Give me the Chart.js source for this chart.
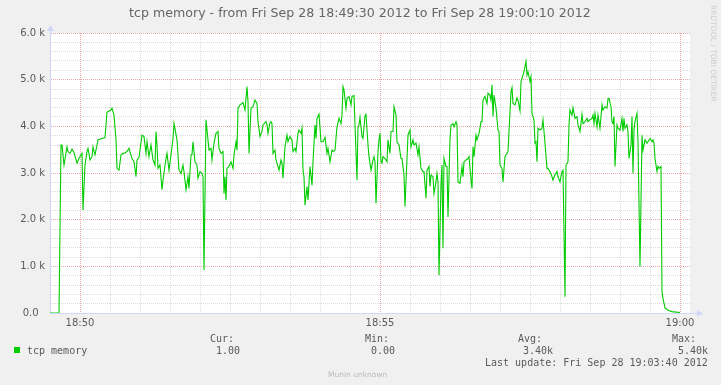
<!DOCTYPE html>
<html>
<head>
<meta charset="utf-8">
<title>tcp memory</title>
<script src="https://cdn.jsdelivr.net/npm/chart.js@4.4.0/dist/chart.umd.min.js"></script>
<style>
  html, body { margin: 0; padding: 0; background: #f0f0f0; }
  #wrap { width: 721px; height: 385px; }
</style>
</head>
<body>
<div id="wrap"><canvas id="tcpChart" width="721" height="385"></canvas></div>
<script>
// seconds after 18:49:30
const times = [
  0, 9, 11, 12, 14, 17, 18, 20, 22, 24, 27, 29, 31, 32, 33, 35, 37, 38, 40, 42, 43, 45, 47, 48, 52, 55,
  57, 59, 61, 62, 64, 66, 67, 69, 71, 73, 74, 77, 79, 82, 84, 86, 87, 89, 92, 94, 96, 97, 99, 101, 103, 105,
  106, 107, 108, 110, 112, 113, 116, 117, 119, 121, 123, 124, 127, 129, 131, 133, 134, 136, 138, 139, 141, 142,
  143, 145, 147, 148, 150, 152, 153, 154, 156, 157, 159, 161, 162, 164, 166, 168, 169, 171, 173, 174, 175, 176,
  177, 179, 181, 183, 184, 186, 187, 188, 190, 192, 193, 195, 197, 198, 199, 201, 203, 205, 207, 208, 210, 212,
  213, 216, 217, 218, 220, 221, 222, 223, 225, 226, 228, 229, 231, 232, 233, 235, 237, 238, 240, 242, 243, 245,
  246, 248, 249, 251, 252, 253, 254, 255, 257, 258, 260, 262, 263, 265, 266, 267, 269, 271, 273, 275, 277, 278,
  280, 282, 283, 285, 287, 289, 291, 292, 293, 294, 296, 297, 299, 301, 302, 304, 305, 307, 308, 309, 310, 312,
  313, 315, 316, 318, 319, 321, 323, 324, 325, 326, 328, 329, 330, 331, 332, 333, 335, 337, 338, 340, 341, 343,
  344, 346, 347, 349, 351, 352, 354, 355, 357, 358, 360, 361, 363, 364, 366, 368, 369, 371, 373, 374, 376, 377,
  379, 380, 381, 383, 384, 386, 387, 388, 389, 391, 392, 393, 394, 396, 397, 398, 400, 401, 403, 404, 406, 407,
  408, 410, 412, 413, 414, 416, 418, 419, 421, 422, 423, 424, 426, 427, 429, 430, 431, 432, 433, 435, 437, 438,
  440, 441, 442, 443, 444, 446, 448, 449, 450, 452, 453, 455, 456, 458, 459, 461, 462, 463, 465, 467, 468, 470,
  471, 473, 474, 476, 477, 478, 480, 481, 482, 484, 485, 486, 487, 488, 490, 492, 493, 495, 497, 498, 500, 502,
  503, 505, 507, 508, 510, 512, 513, 515, 516, 518, 519, 520, 522, 523, 525, 527, 528, 530, 532, 533, 535, 537,
  538, 540, 542, 543, 544, 545, 547, 548, 550, 552, 553, 555, 557, 558, 559, 561, 562, 563, 564, 565, 567, 568,
  570, 572, 573, 574, 575, 577, 578, 579, 581, 582, 583, 584, 585, 587, 588, 590, 592, 593, 595, 597, 598, 600,
  602, 603, 604, 605, 607, 608, 609, 611, 612, 613, 615, 618, 622, 630
];
// thousands
const values = [
  0, 0, 3.60, 3.60, 3.17, 3.56, 3.46, 3.42, 3.51, 3.44, 3.21, 3.31, 3.39, 3.42, 2.21, 3.17, 3.46, 3.53, 3.28, 3.35, 3.56, 3.39, 3.60, 3.71, 3.74, 3.76,
  4.30, 4.33, 4.35, 4.39, 4.24, 3.71, 3.10, 3.06, 3.39, 3.42, 3.42, 3.46, 3.53, 3.31, 3.24, 2.92, 3.28, 3.33, 3.81, 3.78, 3.42, 3.67, 3.35, 3.60, 3.28, 3.17,
  3.89, 3.60, 3.10, 3.17, 2.64, 2.85, 3.31, 3.42, 3.06, 3.39, 3.74, 4.06, 3.71, 3.06, 2.99, 3.17, 3.03, 2.64, 2.92, 2.67, 3.39, 3.39,
  3.67, 3.24, 3.17, 2.89, 3.03, 2.99, 2.92, 0.92, 4.14, 3.92, 3.49, 3.53, 3.28, 3.64, 3.85, 3.89, 3.53, 3.42, 3.46, 2.56, 2.92, 2.42,
  3.10, 3.14, 3.24, 3.10, 3.39, 3.67, 3.49, 4.39, 4.46, 4.49, 4.51, 4.35, 4.85, 4.53, 3.42, 4.39, 4.42, 4.56, 4.49, 4.10, 3.78, 3.89,
  4.03, 4.10, 4.03, 3.85, 4.08, 4.10, 4.06, 3.42, 3.49, 3.28, 3.14, 3.06, 3.28, 3.21, 2.89, 3.56, 3.81, 3.67, 3.78, 3.71, 3.46, 3.53,
  3.46, 3.85, 3.92, 3.85, 3.96, 3.06, 2.92, 2.31, 2.71, 2.42, 3.14, 2.74, 3.24, 4.03, 3.74, 4.17, 4.26, 3.67, 3.67, 3.76, 3.42, 3.53,
  3.24, 3.49, 3.46, 3.49, 3.99, 4.17, 4.06, 4.24, 4.85, 4.78, 4.39, 4.60, 4.64, 4.46, 4.64, 4.66, 4.03, 2.85, 3.99, 4.03, 4.19, 3.78,
  3.74, 4.23, 4.26, 3.60, 3.35, 3.06, 3.28, 3.35, 3.24, 2.35, 3.46, 3.71, 3.85, 3.24, 3.21, 3.35, 3.31, 3.24, 3.71, 3.42, 3.89, 3.89,
  4.42, 4.24, 3.67, 3.60, 3.31, 3.31, 2.96, 2.28, 3.31, 3.81, 3.92, 3.56, 3.71, 3.60, 3.64, 3.39, 3.56, 3.10, 3.03, 3.03, 2.46, 3.06,
  3.14, 2.71, 2.96, 2.92, 2.56, 2.81, 2.99, 2.81, 0.81, 2.74, 3.17, 1.39, 3.31, 3.14, 3.14, 2.06, 3.74, 4.03, 4.06, 3.99, 4.10, 4.03,
  2.81, 2.78, 3.14, 2.92, 3.24, 3.28, 3.31, 3.35, 2.85, 2.67, 3.56, 3.35, 3.81, 3.71, 3.85, 3.96, 4.10, 4.10, 4.56, 4.64, 4.49, 4.71,
  4.67, 4.56, 4.89, 4.21, 4.67, 4.39, 3.92, 3.89, 3.17, 3.10, 2.81, 3.35, 3.39, 3.46, 3.89, 4.74, 4.83, 4.49, 4.46, 4.61, 4.56, 4.33,
  4.96, 5.10, 5.17, 5.39, 5.10, 5.17, 4.96, 5.06, 4.28, 4.14, 3.64, 3.67, 3.24, 3.96, 3.92, 3.96, 4.14, 3.64, 3.10, 3.10, 3.03, 2.92,
  2.85, 2.96, 3.03, 2.92, 2.81, 3.03, 3.06, 0.35, 3.17, 3.24, 4.03, 4.35, 4.24, 4.40, 4.17, 4.21, 4.03, 3.89, 4.26, 4.06, 4.10, 4.17,
  4.10, 4.14, 4.17, 4.24, 4.06, 4.28, 3.99, 4.24, 3.96, 4.46, 4.35, 4.42, 4.39, 4.59, 4.60, 4.42, 4.10, 4.06, 4.21, 3.14, 4.03, 3.96,
  3.92, 4.17, 3.89, 4.17, 3.96, 4.03, 3.89, 3.31, 3.60, 4.21, 2.99, 3.92, 4.10, 4.28, 3.67, 0.99, 3.81, 3.49, 3.71, 3.64, 3.67, 3.74, 3.67,
  3.71, 3.64, 3.31, 3.03, 3.14, 3.10, 3.14, 0.46, 0.31, 0.11, 0.06, 0.03, 0.01, 0.001
];

const xTickTimes = [30, 330, 630];
const xTickLabels = ["18:50", "18:55", "19:00"];
const yTickLabels = ["0.0  ", "1.0 k", "2.0 k", "3.0 k", "4.0 k", "5.0 k", "6.0 k"];

const seriesName = "tcp memory";
const statHeads = ["Cur:", "Min:", "Avg:", "Max:"];
const statValues = ["1.00", "0.00", "3.40k", "5.40k"];
const titleText = "tcp memory - from Fri Sep 28 18:49:30 2012 to Fri Sep 28 19:00:10 2012";
const lastUpdate = "Last update: Fri Sep 28 19:03:40 2012";

const textColor = "#5a5a5a";
const axisColor = "#cfd6f8";
const majorGrid = "#eaa8a8";
const minorGrid = "#dadada";

const isWhole = v => Math.abs(v - Math.round(v)) < 1e-6;

// title, legend, arrows etc.
const decor = {
  id: "decor",
  beforeDraw(chart) {
    const { ctx, chartArea: a } = chart;
    ctx.save();
    ctx.fillStyle = "#f0f0f0";
    ctx.fillRect(0, 0, chart.width, chart.height);
    ctx.fillStyle = "#ffffff";
    ctx.fillRect(a.left, a.top, a.right - a.left, a.bottom - a.top);
    ctx.restore();
  },
  afterDraw(chart) {
    const { ctx, chartArea: a } = chart;
    ctx.save();

    // axis arrows
    ctx.strokeStyle = axisColor;
    ctx.fillStyle = axisColor;
    ctx.lineWidth = 1;
    ctx.beginPath();
    ctx.moveTo(a.right, a.bottom + 0.5);
    ctx.lineTo(a.right + 8, a.bottom + 0.5);
    ctx.moveTo(a.left + 0.5, a.top);
    ctx.lineTo(a.left + 0.5, a.top - 3);
    ctx.stroke();
    ctx.beginPath();
    ctx.moveTo(a.right + 7, a.bottom - 3);
    ctx.lineTo(a.right + 13, a.bottom + 0.5);
    ctx.lineTo(a.right + 7, a.bottom + 4);
    ctx.fill();
    ctx.beginPath();
    ctx.moveTo(a.left - 3, a.top - 2);
    ctx.lineTo(a.left + 0.5, a.top - 8);
    ctx.lineTo(a.left + 4, a.top - 2);
    ctx.fill();

    // title
    ctx.fillStyle = "#666666";
    ctx.font = "12.6px 'DejaVu Sans'";
    ctx.textAlign = "center";
    ctx.textBaseline = "middle";
    ctx.fillText(titleText, 360, 14);

    // legend
    ctx.fillStyle = "#00cc00";
    ctx.fillRect(14, 347, 6, 6);
    ctx.fillStyle = textColor;
    ctx.font = "10px 'DejaVu Sans Mono'";
    ctx.textAlign = "left";
    ctx.fillText(seriesName, 27, 351);
    const headX = [210, 365, 518, 672];
    const valX = [216, 371, 523, 678];
    statHeads.forEach((h, i) => ctx.fillText(h, headX[i], 339));
    statValues.forEach((v, i) => ctx.fillText(v, valX[i], 351));
    ctx.fillText(lastUpdate, 485, 363);

    // footer
    ctx.fillStyle = "#bbbbbb";
    ctx.font = "7.5px 'DejaVu Sans'";
    ctx.fillText("Munin unknown", 328, 375);

    // rrdtool watermark
    ctx.translate(713, 5);
    ctx.rotate(Math.PI / 2);
    ctx.fillStyle = "#cccccc";
    ctx.font = "7.5px 'DejaVu Sans'";
    ctx.textAlign = "left";
    ctx.fillText("RRDTOOL / TOBI OETIKER", 0, 0);
    ctx.restore();
  }
};

const ctx = document.getElementById("tcpChart").getContext("2d");
const tcpChart = new Chart(ctx, {
  type: "line",
  data: {
    datasets: [{
      label: seriesName,
      data: times.map((t, i) => ({ x: t, y: values[i] })),
      borderColor: "#00cc00",
      borderWidth: 1.1,
      pointRadius: 0,
      tension: 0,
      fill: false
    }]
  },
  options: {
    responsive: false,
    animation: false,
    devicePixelRatio: 1,
    layout: { padding: { left: 0, top: 33, right: 31, bottom: 0 } },
    plugins: {
      legend: { display: false },
      tooltip: { enabled: false },
      title: { display: false }
    },
    scales: {
      x: {
        type: "linear",
        min: 0,
        max: 640,
        afterFit: s => { s.height = 72; },
        afterBuildTicks: s => {
          s.ticks = [];
          for (let t = 0; t <= 630; t += 30) s.ticks.push({ value: t });
        },
        ticks: {
          autoSkip: false,
          maxRotation: 0,
          padding: 4,
          color: textColor,
          font: { family: "DejaVu Sans", size: 10 },
          callback: v => {
            const i = xTickTimes.indexOf(v);
            return i < 0 ? "" : xTickLabels[i];
          }
        },
        grid: {
          drawTicks: false,
          lineWidth: 1,
          color: c => {
            const v = c.tick ? c.tick.value : 0;
            if (v === 0) return "rgba(0,0,0,0)";
            return xTickTimes.includes(v) ? majorGrid : minorGrid;
          }
        },
        border: { color: axisColor, width: 1, dash: [1, 1] }
      },
      y: {
        min: 0,
        max: 6,
        afterFit: s => { s.width = 50; },
        afterBuildTicks: s => {
          s.ticks = [];
          for (let i = 0; i <= 30; i++) s.ticks.push({ value: i / 5 });
        },
        ticks: {
          autoSkip: false,
          padding: 5,
          color: textColor,
          font: { family: "DejaVu Sans", size: 10 },
          callback: v => isWhole(v) ? yTickLabels[Math.round(v)] : ""
        },
        grid: {
          drawTicks: false,
          lineWidth: 1,
          color: c => {
            const v = c.tick ? c.tick.value : 0;
            if (v === 0) return "rgba(0,0,0,0)";
            return isWhole(v) ? majorGrid : minorGrid;
          }
        },
        border: { color: axisColor, width: 1, dash: [1, 1] }
      }
    }
  },
  plugins: [decor]
});
</script>
</body>
</html>
